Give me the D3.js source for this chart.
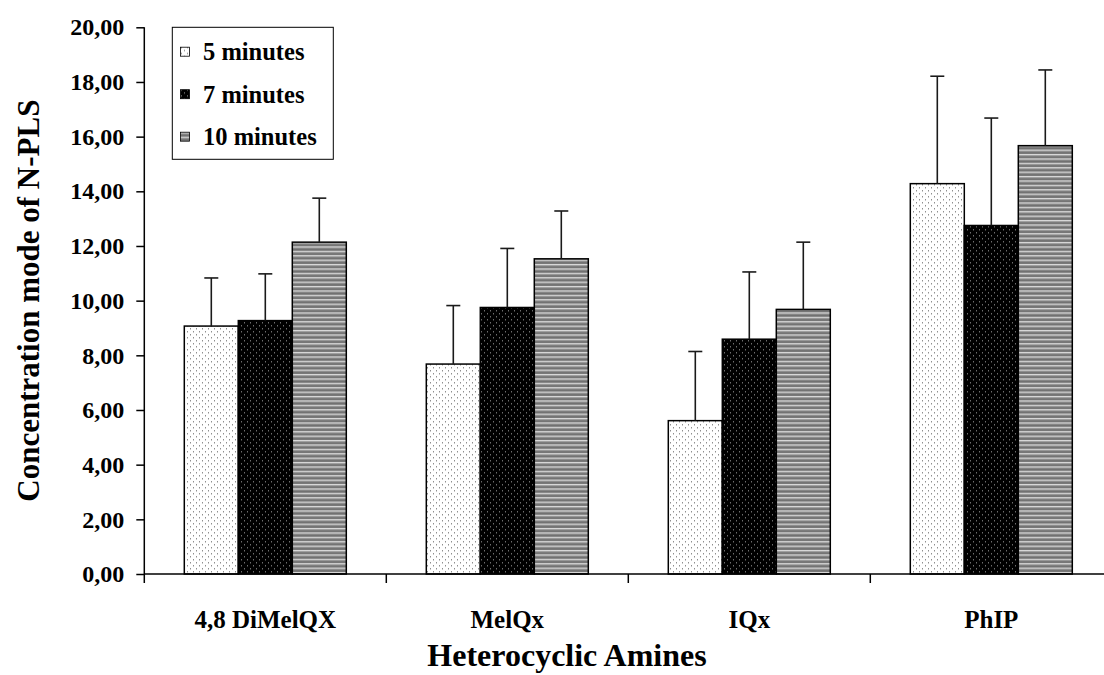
<!DOCTYPE html>
<html>
<head>
<meta charset="utf-8">
<script src="https://cdn.jsdelivr.net/npm/d3@7/dist/d3.min.js"></script>
<style>
  html, body { margin: 0; padding: 0; background: #fff; }
  svg { display: block; }
  text { font-family: "Liberation Serif", "Times New Roman", serif; font-weight: bold; fill: #000; }
</style>
</head>
<body>
<svg id="chart"></svg>
<script>
// ── Data ──────────────────────────────────────────────────────────────────────
const categories = ['4,8 DiMelQX', 'MelQx', 'IQx', 'PhIP'];
const series     = ['5 minutes', '7 minutes', '10 minutes'];
const means5     = [9.07, 7.68, 5.61, 14.28];
const means7     = [9.27, 9.75, 8.59, 12.75];
const means10    = [12.14, 11.53, 9.68, 15.67];
const err5       = [1.76, 2.14, 2.53, 3.93];
const err7       = [1.71, 2.16, 2.46, 3.93];
const err10      = [1.61, 1.75, 2.46, 2.77];
const yTicks     = [0, 2, 4, 6, 8, 10, 12, 14, 16, 18, 20];

const means = [means5, means7, means10];
const errs  = [err5, err7, err10];

const W = 1104, H = 675;
const svg = d3.select('#chart').attr('width', W).attr('height', H);
const defs = svg.append('defs');

// ── Fill patterns ─────────────────────────────────────────────────────────────
function dotPattern(id, bg, dot) {
    const p = defs.append('pattern').attr('id', id)
        .attr('patternUnits', 'userSpaceOnUse').attr('width', 6).attr('height', 6);
    p.append('rect').attr('width', 6).attr('height', 6).attr('fill', bg);
    p.append('rect').attr('x', 1).attr('y', 1).attr('width', 1).attr('height', 1.5).attr('fill', dot);
    p.append('rect').attr('x', 4).attr('y', 4).attr('width', 1).attr('height', 1.5).attr('fill', dot);
}
dotPattern('pat5', '#ffffff', '#8f8f8f');
dotPattern('pat7', '#000000', '#6e6e6e');

const stripes = defs.append('pattern').attr('id', 'pat10')
    .attr('patternUnits', 'userSpaceOnUse').attr('width', 4).attr('height', 4.4);
[['#dadada', 0, 1.1], ['#8c8c8c', 1.1, 1.1], ['#3c3c3c', 2.2, 1.1], ['#7a7a7a', 3.3, 1.1]]
    .forEach(([c, y, h]) => stripes.append('rect').attr('x', 0).attr('y', y)
        .attr('width', 4).attr('height', h).attr('fill', c));

const fills = ['url(#pat5)', 'url(#pat7)', 'url(#pat10)'];

// ── Scales ────────────────────────────────────────────────────────────────────
const plotL = 144.3, plotR = 1112.3, plotB = 574, plotT = 27.3;

const y = d3.scaleLinear().domain([0, 20]).range([plotB, plotT]);
const xCat = d3.scaleBand().domain(categories).range([plotL, plotR]);
const x0 = d3.scaleBand().domain(categories).range([plotL, plotR])
    .paddingInner(0.3306).paddingOuter(0.1653);
const x1 = d3.scaleBand().domain(series).range([0, x0.bandwidth()]);

// ── Bars ──────────────────────────────────────────────────────────────────────
const rows = [];
categories.forEach((c, i) => series.forEach((s, j) =>
    rows.push({ c, s, j, v: means[j][i], e: errs[j][i] })));

const gBars = svg.append('g');
gBars.selectAll('rect').data(rows).join('rect')
    .attr('x', d => x0(d.c) + x1(d.s))
    .attr('y', d => y(d.v))
    .attr('width', x1.bandwidth())
    .attr('height', d => y(0) - y(d.v))
    .attr('fill', d => fills[d.j])
    .attr('stroke', '#000').attr('stroke-width', 1.5);

// ── Error bars (plus direction only) ─────────────────────────────────────────
const gErr = svg.append('g').attr('stroke', '#1a1a1a').attr('stroke-width', 1.6);
const cx = d => x0(d.c) + x1(d.s) + x1.bandwidth() / 2;
gErr.selectAll('line.stem').data(rows).join('line').attr('class', 'stem')
    .attr('x1', cx).attr('x2', cx)
    .attr('y1', d => y(d.v)).attr('y2', d => y(d.v + d.e));
gErr.selectAll('line.cap').data(rows).join('line').attr('class', 'cap')
    .attr('x1', d => cx(d) - 7).attr('x2', d => cx(d) + 7)
    .attr('y1', d => y(d.v + d.e)).attr('y2', d => y(d.v + d.e));

// ── Axes ──────────────────────────────────────────────────────────────────────
const fmt = v => d3.format('.2f')(v).replace('.', ',');

const gy = svg.append('g').attr('transform', `translate(${plotL},0)`)
    .call(d3.axisLeft(y).tickValues(yTicks).tickFormat(fmt).tickSize(8).tickPadding(12));
gy.select('.domain').attr('stroke', '#000').attr('stroke-width', 1.5)
    .attr('d', `M0,${plotT}V${plotB + 9}`);
gy.selectAll('.tick line').attr('stroke', '#000').attr('stroke-width', 1.5);
gy.selectAll('.tick text').attr('font-size', 24)
    .attr('font-family', '"Liberation Serif", "Times New Roman", serif').attr('font-weight', 'bold');

// category axis: boundaries carry the ticks, labels sit at the centres
const gx = svg.append('g').attr('transform', `translate(0,${plotB})`);
gx.append('line').attr('x1', plotL).attr('x2', plotR).attr('y1', 0).attr('y2', 0)
    .attr('stroke', '#000').attr('stroke-width', 1.5);
gx.selectAll('line.tick').data(categories.slice(1)).join('line').attr('class', 'tick')
    .attr('x1', d => xCat(d)).attr('x2', d => xCat(d))
    .attr('y1', 0).attr('y2', 9).attr('stroke', '#000').attr('stroke-width', 1.5);
gx.selectAll('text').data(categories).join('text')
    .attr('x', d => xCat(d) + xCat.bandwidth() / 2).attr('y', 45)
    .attr('text-anchor', 'middle').attr('dominant-baseline', 'central')
    .attr('font-size', 25).text(d => d);

// ── Axis titles ───────────────────────────────────────────────────────────────
svg.append('text')
    .attr('x', 567).attr('y', 655)
    .attr('text-anchor', 'middle').attr('dominant-baseline', 'central')
    .attr('font-size', 32).text('Heterocyclic Amines');

svg.append('text')
    .attr('transform', `translate(28,${(plotT + plotB) / 2}) rotate(-90)`)
    .attr('text-anchor', 'middle').attr('dominant-baseline', 'central')
    .attr('font-size', 31).text('Concentration mode of N-PLS');

// ── Legend ────────────────────────────────────────────────────────────────────
const gLeg = svg.append('g');
gLeg.append('rect').attr('x', 172.3).attr('y', 27.3).attr('width', 161).attr('height', 132)
    .attr('fill', '#fff').attr('stroke', '#000').attr('stroke-width', 1);
const legY = d3.scalePoint().domain(series).range([51.7, 136.7]);
const li = gLeg.selectAll('g.item').data(series).join('g').attr('class', 'item')
    .attr('transform', d => `translate(0,${legY(d)})`);
li.append('rect').attr('x', 180.5).attr('y', -4.5).attr('width', 9).attr('height', 9)
    .attr('fill', (d, i) => fills[i]).attr('stroke', '#000').attr('stroke-width', 0.8);
li.append('text').attr('x', 203).attr('y', 0).attr('dominant-baseline', 'central')
    .attr('font-size', 24.5).text(d => d);
</script>
</body>
</html>
